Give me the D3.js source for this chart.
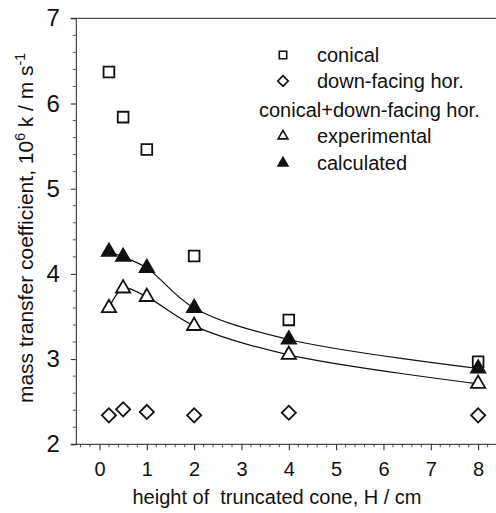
<!DOCTYPE html>
<html>
<head>
<meta charset="utf-8">
<script src="https://cdn.jsdelivr.net/npm/d3@7"></script>
<style>
  body { margin: 0; background: #fff; }
  svg { display: block; font-family: "Liberation Sans", Arial, sans-serif; }
</style>
</head>
<body>
<svg id="chart" width="496" height="513"></svg>
<script>
// values
const heights = [0.2, 0.5, 1, 2, 4, 8];
const conical = [6.37, 5.84, 5.46, 4.21, 3.46, 2.97];
const downFacing = [2.34, 2.41, 2.38, 2.34, 2.37, 2.34];
const experimental = [3.60, 3.83, 3.73, 3.39, 3.05, 2.71];
const calculated = [4.26, 4.20, 4.07, 3.60, 3.23, 2.89];
const xTicks = [0, 1, 2, 3, 4, 5, 6, 7, 8];
const yTicks = [2, 3, 4, 5, 6, 7];

const svg = d3.select("#chart");
const x = d3.scaleLinear().domain([-0.5, 8.5]).range([75.8, 501.8]);
const y = d3.scaleLinear().domain([2, 7]).range([444.3, 18.3]);

const g = svg.append("g");

// minor ticks
const xMinor = d3.range(-0.4, 8.5, 0.2).filter(v => Math.abs(v - Math.round(v)) > 0.01);
const yMinor = d3.range(2.2, 7, 0.2).filter(v => Math.abs(v - Math.round(v)) > 0.01);
g.selectAll(".xminor").data(xMinor).join("line")
    .attr("x1", d => x(d)).attr("x2", d => x(d))
    .attr("y1", y(2)).attr("y2", y(2) + 3)
    .attr("stroke", "#555").attr("stroke-width", 1);
g.selectAll(".yminor").data(yMinor).join("line")
    .attr("x1", x(-0.5) - 3).attr("x2", x(-0.5))
    .attr("y1", d => y(d)).attr("y2", d => y(d))
    .attr("stroke", "#555").attr("stroke-width", 1);

// axes
const xAxis = g.append("g").attr("transform", `translate(0,${y(2)})`)
    .call(d3.axisBottom(x).tickValues(xTicks).tickFormat(d3.format("d"))
        .tickSize(6).tickSizeOuter(0).tickPadding(12));
const yAxis = g.append("g").attr("transform", `translate(${x(-0.5)},0)`)
    .call(d3.axisLeft(y).tickValues(yTicks).tickFormat(d3.format("d"))
        .tickSize(5).tickSizeOuter(0).tickPadding(11));
[xAxis, yAxis].forEach(a => {
    a.selectAll("path,line").attr("stroke", "#222");
    a.selectAll("text").attr("fill", "#111")
        .attr("font-family", '"Liberation Sans", Arial, sans-serif');
});
xAxis.selectAll("text").attr("font-size", 20);
yAxis.selectAll("text").attr("font-size", 24);
xAxis.select(".domain").attr("d", `M${x(-0.5) - 5},0H${x(8.5)}`);
// top frame line
g.append("line").attr("x1", x(-0.5) - 5).attr("x2", x(8.5))
    .attr("y1", y(7)).attr("y2", y(7)).attr("stroke", "#222");

// fitted curves
const pts = vals => heights.map((h, i) => [x(h), y(vals[i])]);
const line = d3.line().curve(d3.curveCatmullRom.alpha(0.5));
[calculated, experimental].forEach(vals => {
    g.append("path").attr("d", line(pts(vals)))
        .attr("fill", "none").attr("stroke", "#111").attr("stroke-width", 1.2);
});

// markers
const sq = d3.symbol().type(d3.symbolSquare);
const tri = d3.symbol().type(d3.symbolTriangle);
function drawSeries(vals, shape, size, fill, rot) {
    g.append("g").selectAll("path").data(heights).join("path")
        .attr("transform", (d, i) => `translate(${x(d)},${y(vals[i])}) rotate(${rot})`)
        .attr("d", shape.size(size)())
        .attr("fill", fill).attr("stroke", "#111").attr("stroke-width", 1.8);
}
drawSeries(conical, sq, 115, "#fff", 0);
drawSeries(downFacing, sq, 100, "#fff", 45);
drawSeries(experimental, tri, 88, "#fff", 0);
drawSeries(calculated, tri, 88, "#111", 0);

// legend
const legend = svg.append("g").attr("font-size", 20).attr("fill", "#111");
const legendItems = [
    {label: "conical", shape: sq, size: 55, fill: "#fff", rot: 0, y: 55},
    {label: "down-facing hor.", shape: sq, size: 55, fill: "#fff", rot: 45, y: 81}
];
const legendItems2 = [
    {label: "experimental", shape: tri, size: 42, fill: "#fff", rot: 0, y: 136},
    {label: "calculated", shape: tri, size: 42, fill: "#111", rot: 0, y: 163}
];
legendItems.concat(legendItems2).forEach(d => {
    legend.append("path")
        .attr("transform", `translate(283,${d.y}) rotate(${d.rot})`)
        .attr("d", d.shape.size(d.size)())
        .attr("fill", d.fill).attr("stroke", "#111").attr("stroke-width", 1.6);
    legend.append("text").attr("x", 317).attr("y", d.y).attr("dy", "0.35em").text(d.label);
});
legend.append("text").attr("x", 259).attr("y", 110).attr("dy", "0.35em").text("conical+down-facing hor.");

// axis titles
svg.append("text").attr("x", 277).attr("y", 504).attr("text-anchor", "middle")
    .attr("font-size", 20).attr("fill", "#111").text("height of  truncated cone, H / cm")
    .style("white-space", "pre");

const yt = svg.append("text")
    .attr("transform", `translate(33,228) rotate(-90)`)
    .attr("text-anchor", "middle").attr("font-size", 21).attr("fill", "#111");
yt.append("tspan").text("mass transfer coefficient, 10");
yt.append("tspan").attr("font-size", 14).attr("dy", -8).text("6");
yt.append("tspan").attr("dy", 8).text(" k / m s");
yt.append("tspan").attr("font-size", 14).attr("dy", -8).text("-1");
</script>
</body>
</html>
